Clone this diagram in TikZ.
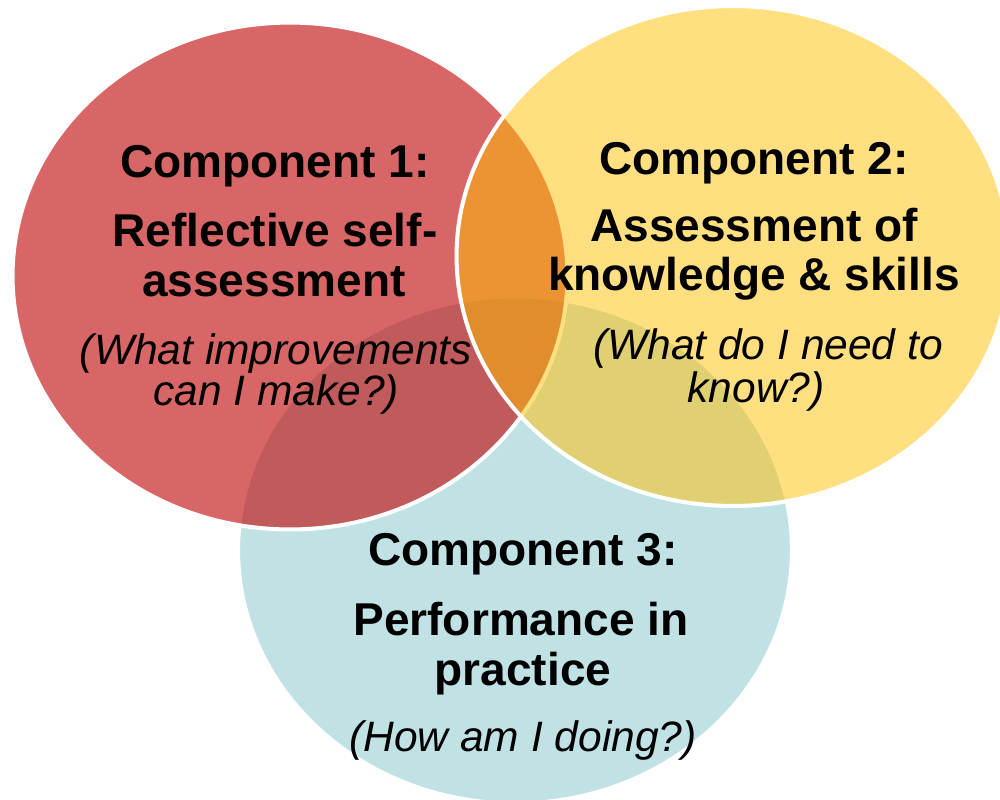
\documentclass[tikz,border=0pt]{standalone}
\usepackage{fontspec}
\setmainfont{Liberation Sans}
\definecolor{cred}{RGB}{192,0,0}
\definecolor{cyel}{RGB}{255,192,0}
\definecolor{cblu}{RGB}{193,226,229}
\tikzset{
  blob/.style={draw=white, line width=2.3pt},
  ttl/.style={anchor=base, inner sep=0pt, font=\fontsize{26.2}{30}\selectfont\bfseries},
  qst/.style={anchor=base, inner sep=0pt, font=\fontsize{24.2}{28}\selectfont\itshape},
}
\begin{document}
\begin{tikzpicture}[x=0.02cm, y=-0.02cm]
\useasboundingbox (0,0) rectangle (1000,799);
\begin{scope}
\clip (0,0) rectangle (1000,799);
\path[blob, fill=cblu] (515,550) ellipse [x radius=5.54cm, y radius=5.07cm];
\path[blob, fill=cred, fill opacity=0.6] (290,276) ellipse [x radius=5.55cm, y radius=5.07cm];
\path[blob, fill=cyel, fill opacity=0.5] (733,256) ellipse [x radius=5.53cm, y radius=5.0cm];
\end{scope}
% Component 1
\node[ttl] (c1a) at (275,177) {Component 1:};
\node[ttl] (c1b) at (275,246) {Reflective self-};
\node[ttl] (c1c) at (274,296) {assessment};
\node[qst] (c1d) at (276,364) {(What improvements};
\node[qst] (c1e) at (276,405) {can I make?)};
% Component 2
\node[ttl] (c2a) at (754,174) {Component 2:};
\node[ttl] (c2b) at (754,241) {Assessment of};
\node[ttl] (c2c) at (754,290) {knowledge \& skills};
\node[qst] (c2d) at (768,359) {(What do I need to};
\node[qst] (c2e) at (756,402) {know?)};
% Component 3
\node[ttl] (c3a) at (523,565) {Component 3:};
\node[ttl] (c3b) at (521,635) {Performance in};
\node[ttl] (c3c) at (523,685) {practice};
\node[qst] (c3d) at (523,751) {(How am I doing?)};
\end{tikzpicture}
\end{document}
